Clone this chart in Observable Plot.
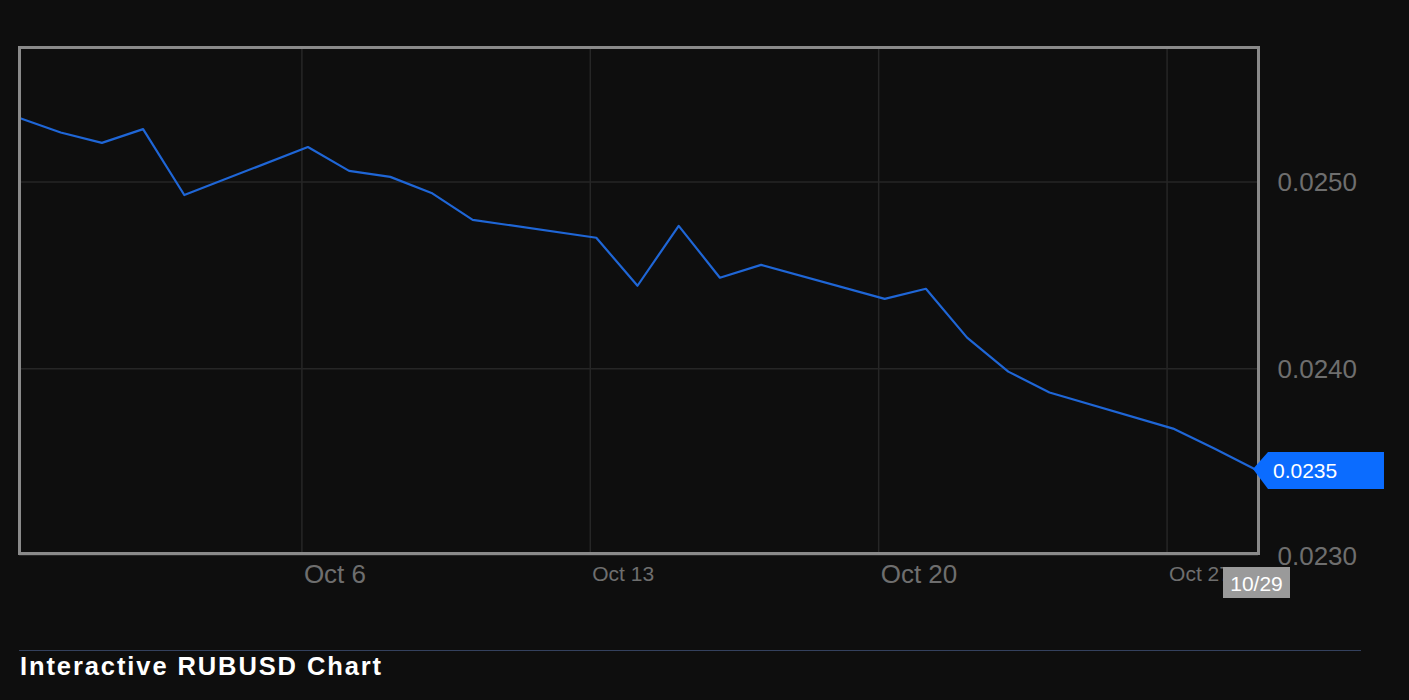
<!DOCTYPE html>
<html>
<head>
<meta charset="utf-8">
<script src="https://cdn.jsdelivr.net/npm/d3@7"></script>
<script src="https://cdn.jsdelivr.net/npm/@observablehq/plot@0.6"></script>
<style>
  html, body { margin: 0; padding: 0; background: #0e0e0e; }
  body { width: 1409px; height: 700px; overflow: hidden; position: relative; font-family: "Liberation Sans", Arial, sans-serif; }
  #topline { position: absolute; left: 0; top: 0; width: 1409px; height: 2px; background: #2a2d32; }
  #chart { position: absolute; left: 0; top: 0; }
  #chart svg { display: block; }
  #sep { position: absolute; left: 19px; top: 650px; width: 1342px; height: 0; border-top: 1.5px solid #34415e; }
  #title { position: absolute; left: 20px; top: 651px; color: #ffffff; font-size: 25.5px; font-weight: bold; letter-spacing: 1.9px; line-height: 30px; }
</style>
</head>
<body>
<div id="topline"></div>
<div id="chart"></div>
<div id="sep"></div>
<div id="title">Interactive RUBUSD Chart</div>
<script>
// ---- data ----
// daily quotes (timestamped at the 03:30 UTC fixing)
const dates = [
  "2025-09-29","2025-09-30","2025-10-01","2025-10-02","2025-10-03",
  "2025-10-06","2025-10-07","2025-10-08","2025-10-09","2025-10-10",
  "2025-10-13","2025-10-14","2025-10-15","2025-10-16","2025-10-17",
  "2025-10-20","2025-10-21","2025-10-22","2025-10-23","2025-10-24",
  "2025-10-27","2025-10-28","2025-10-29"
];
const quoteTime = "T03:30:00Z";
const rates = [
  0.025342, 0.025265, 0.025209, 0.025283, 0.024930,
  0.025187, 0.025059, 0.025027, 0.024941, 0.024797,
  0.024701, 0.024444, 0.024765, 0.024487, 0.024556,
  0.024374, 0.024428, 0.024166, 0.023984, 0.023872,
  0.023679, 0.023572, 0.023460
];
const tickDates = ["2025-10-06","2025-10-13","2025-10-20","2025-10-27"];
const tickLabels = ["Oct 6","Oct 13","Oct 20","Oct 27"];
const yTicks = [0.0230, 0.0240, 0.0250];
const yDomain = [0.02301, 0.02572];
const xDomain = ["2025-09-29T03:30:00Z", "2025-10-29T05:15:00Z"];

// ---- build ----
const data = dates.map((d, i) => ({date: new Date(d + quoteTime), rate: rates[i]}));
const ticks = tickDates.map(d => new Date(d + "T00:00:00Z"));
const last = data[data.length - 1];
const fmtRate = d3.format(".4f");
const fmtDay = d3.utcFormat("%m/%d");

function tagMark(index, scales) {
  const px = scales.x(last.date), py = scales.y(last.rate);
  const g = d3.create("svg:g");
  g.append("path")
    .attr("d", `M${px - 2},${py} L${px + 13},${py - 17} H${px + 129} V${py + 20} H${px + 13} Z`)
    .attr("fill", "#0b6cff");
  g.append("text")
    .attr("x", px + 18).attr("y", py + 1.5)
    .attr("text-anchor", "start")
    .attr("dominant-baseline", "central")
    .attr("fill", "#ffffff").attr("font-size", 21)
    .text(fmtRate(last.rate));
  return g.node();
}

function dateTagMark(index, scales, values, dims) {
  const px = scales.x(last.date);
  const by = dims.height - dims.marginBottom;
  const g = d3.create("svg:g");
  g.append("rect")
    .attr("x", px - 32).attr("y", by + 14)
    .attr("width", 67).attr("height", 31)
    .attr("fill", "#9a9a9a");
  g.append("text")
    .attr("x", px + 1.5).attr("y", by + 30)
    .attr("text-anchor", "middle").attr("dominant-baseline", "central")
    .attr("fill", "#ffffff").attr("font-size", 21)
    .text(fmtDay(last.date));
  return g.node();
}

const chart = Plot.plot({
  width: 1409,
  height: 610,
  marginLeft: 19,
  marginRight: 151,
  marginTop: 47,
  marginBottom: 57,
  style: {background: "#0e0e0e", fontFamily: "Liberation Sans, Arial, sans-serif"},
  x: {type: "utc", domain: xDomain.map(d => new Date(d)), axis: null},
  y: {domain: yDomain, axis: null},
  marks: [
    Plot.ruleY(yTicks, {stroke: "#262626", strokeWidth: 1.5}),
    Plot.ruleX(ticks, {stroke: "#262626", strokeWidth: 1.5}),
    Plot.line(data, {x: "date", y: "rate", stroke: "#1f66d6", strokeWidth: 2.2}),
    Plot.frame({stroke: "#8a8a8a", strokeWidth: 3}),
    Plot.axisY(yTicks, {
      anchor: "right", tickSize: 0, tickPadding: 19, label: null,
      fontSize: 26, fill: "#6e6e6e", tickFormat: fmtRate, dy: 1
    }),
    Plot.text(ticks, {
      x: d => d,
      text: (d, i) => tickLabels[i],
      frameAnchor: "bottom",
      dy: 21,
      dx: 2,
      textAnchor: "start",
      lineAnchor: "middle",
      fontSize: (d, i) => (i % 2 ? 21 : 26),
      fill: "#6e6e6e"
    }),
    tagMark,
    dateTagMark
  ]
});
document.getElementById("chart").appendChild(chart);
</script>
</body>
</html>
